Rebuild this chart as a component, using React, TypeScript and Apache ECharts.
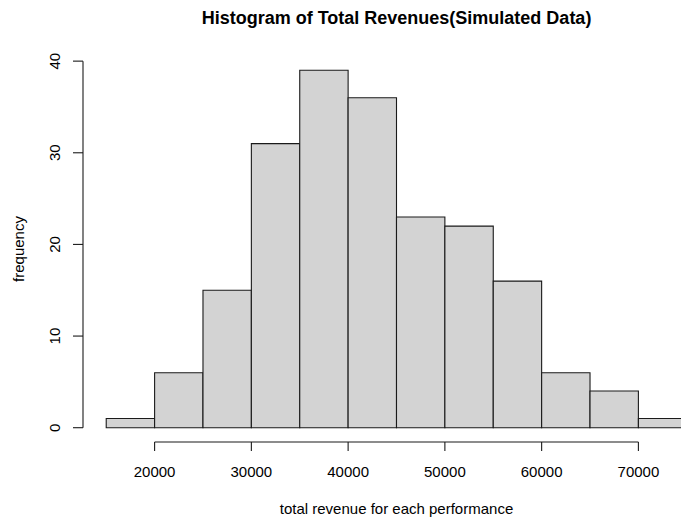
import React, { useEffect, useRef } from "react";
import * as echarts from "echarts";

const binStarts = [15000, 20000, 25000, 30000, 35000, 40000, 45000, 50000, 55000, 60000, 65000, 70000];
const binEnds = [20000, 25000, 30000, 35000, 40000, 45000, 50000, 55000, 60000, 65000, 70000, 75000];
const counts = [1, 6, 15, 31, 39, 36, 23, 22, 16, 6, 4, 1];
const xTicks = [20000, 30000, 40000, 50000, 60000, 70000];
const yTicks = [0, 10, 20, 30, 40];
const titleText = "Histogram of Total Revenues(Simulated Data)";
const xName = "total revenue for each performance";
const yName = "frequency";

const FONT = '"Liberation Sans", Arial, Helvetica, sans-serif';

export default function App() {
  const ref = useRef<HTMLDivElement>(null);
  useEffect(() => {
    if (!ref.current) return;
    const chart = echarts.init(ref.current, null, { renderer: "svg" });
    // R-style 4% axis extension
    const xLo = binStarts[0], xHi = binEnds[binEnds.length - 1];
    const xPad = (xHi - xLo) * 0.04;
    const yLo = 0, yHi = Math.max(...counts);
    const yPad = (yHi - yLo) * 0.04;
    const xMin = xLo - xPad, xMax = xHi + xPad;
    const yMin = yLo - yPad, yMax = yHi + yPad;

    const barData = binStarts.map((s, i) => [s, binEnds[i], counts[i]]);

    chart.setOption({
      animation: false,
      backgroundColor: "#ffffff",
      textStyle: { fontFamily: FONT },
      graphic: [
        {
          type: "text",
          x: 396.5,
          y: 18,
          style: {
            text: titleText,
            font: `bold 18px ${FONT}`,
            fill: "#000",
            textAlign: "center",
            textVerticalAlign: "middle",
          },
        },
      ],
      grid: { left: 83, right: 0, top: 56, bottom: 75, containLabel: false, outerBoundsMode: "none" },
      xAxis: {
        type: "value",
        min: xMin,
        max: xMax,
        name: xName,
        nameLocation: "middle",
        nameGap: 59,
        nameTextStyle: { fontSize: 15, color: "#000", fontFamily: FONT },
        axisLine: { show: false },
        splitLine: { show: false },
        axisTick: { show: false },
        axisLabel: { show: true, customValues: xTicks, margin: 22, fontSize: 15, color: "#000", fontFamily: FONT, formatter: (v: number) => String(v) },
      },
      yAxis: {
        type: "value",
        min: yMin,
        max: yMax,
        name: yName,
        nameLocation: "middle",
        nameRotate: 90,
        nameGap: 57,
        nameTextStyle: { fontSize: 15, color: "#000", fontFamily: FONT },
        axisLine: { show: false },
        splitLine: { show: false },
        axisTick: { show: false },
        axisLabel: { show: true, customValues: yTicks, rotate: 90, margin: 21, fontSize: 15, color: "#000", fontFamily: FONT },
      },
      series: [
        {
          type: "custom",
          clip: true,
          encode: { x: [0, 1], y: 2 },
          data: barData,
          renderItem: (params: any, api: any) => {
            const p0 = api.coord([api.value(0), api.value(2)]);
            const p1 = api.coord([api.value(1), 0]);
            return {
              type: "rect",
              shape: { x: p0[0], y: p0[1], width: p1[0] - p0[0], height: p1[1] - p0[1] },
              style: { fill: "#D3D3D3", stroke: "#1a1a1a", lineWidth: 1.1 },
            };
          },
        },
        {
          type: "custom",
          clip: false,
          silent: true,
          data: [[xTicks[0], yMin]],
          renderItem: (params: any, api: any) => {
            const st = { stroke: "#1a1a1a", lineWidth: 1.1 };
            const a = api.coord([xTicks[0], yMin]);
            const b = api.coord([xTicks[xTicks.length - 1], yMin]);
            const c = api.coord([xMin, yTicks[0]]);
            const d = api.coord([xMin, yTicks[yTicks.length - 1]]);
            const children: any[] = [
              { type: "line", shape: { x1: a[0], y1: a[1], x2: b[0], y2: b[1] }, style: st },
              { type: "line", shape: { x1: c[0], y1: c[1], x2: d[0], y2: d[1] }, style: st },
            ];
            xTicks.forEach((t) => {
              const p = api.coord([t, yMin]);
              children.push({ type: "line", shape: { x1: p[0], y1: p[1], x2: p[0], y2: p[1] + 9 }, style: st });
            });
            yTicks.forEach((t) => {
              const p = api.coord([xMin, t]);
              children.push({ type: "line", shape: { x1: p[0], y1: p[1], x2: p[0] - 10, y2: p[1] }, style: st });
            });
            return { type: "group", children };
          },
        },
      ],
    });
    return () => chart.dispose();
  }, []);
  return (
    <div style={{ position: "fixed", left: 0, top: 0, width: 681, height: 517, overflow: "hidden", background: "#fff" }}>
      <div ref={ref} style={{ width: 710, height: 517 }} />
    </div>
  );
}
